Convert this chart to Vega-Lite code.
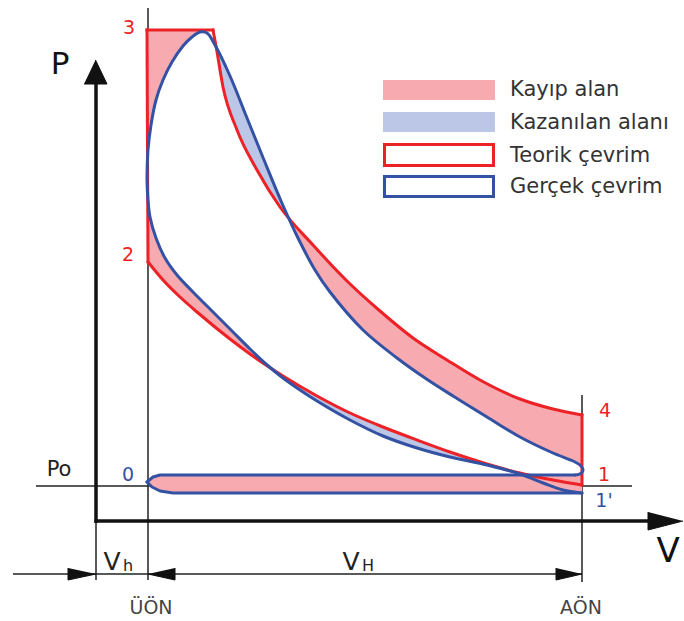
{
  "$schema": "https://vega.github.io/schema/vega-lite/v6.json",
  "width": 684,
  "height": 621,
  "autosize": {"type": "none"},
  "padding": 0,
  "background": "white",
  "config": {"view": {"stroke": null}},
  "datasets": {
    "thin": [
      {"x": 148, "y": 8, "x2": 148, "y2": 580},
      {"x": 582, "y": 395, "x2": 582, "y2": 582},
      {"x": 96, "y": 521, "x2": 96, "y2": 580},
      {"x": 36, "y": 486, "x2": 632, "y2": 486},
      {"x": 13, "y": 574, "x2": 582, "y2": 574}
    ],
    "thick": [
      {"x": 96, "y": 80, "x2": 96, "y2": 523},
      {"x": 94.5, "y": 521, "x2": 652, "y2": 521}
    ],
    "arrows": [
      {"g": "P", "i": 0, "x": 95.5, "y": 60}, {"g": "P", "i": 1, "x": 107, "y": 84}, {"g": "P", "i": 2, "x": 84, "y": 84},
      {"g": "V", "i": 0, "x": 683, "y": 521}, {"g": "V", "i": 1, "x": 648, "y": 530}, {"g": "V", "i": 2, "x": 648, "y": 512},
      {"g": "a1", "i": 0, "x": 96, "y": 574}, {"g": "a1", "i": 1, "x": 68, "y": 580}, {"g": "a1", "i": 2, "x": 68, "y": 568},
      {"g": "a2", "i": 0, "x": 148, "y": 574}, {"g": "a2", "i": 1, "x": 175, "y": 580}, {"g": "a2", "i": 2, "x": 175, "y": 568},
      {"g": "a3", "i": 0, "x": 582, "y": 574}, {"g": "a3", "i": 1, "x": 556, "y": 580}, {"g": "a3", "i": 2, "x": 556, "y": 568}
    ],
    "lost": [
      {"g": "A", "i": 0, "x": 147, "y": 30}, {"g": "A", "i": 1, "x": 205, "y": 30}, {"g": "A", "i": 2, "x": 200, "y": 32},
      {"g": "A", "i": 3, "x": 192, "y": 37}, {"g": "A", "i": 4, "x": 183, "y": 46}, {"g": "A", "i": 5, "x": 172, "y": 62},
      {"g": "A", "i": 6, "x": 163, "y": 80}, {"g": "A", "i": 7, "x": 156, "y": 100}, {"g": "A", "i": 8, "x": 151, "y": 125},
      {"g": "A", "i": 9, "x": 148, "y": 150}, {"g": "A", "i": 10, "x": 147, "y": 170},
      {"g": "B", "i": 0, "x": 147, "y": 185}, {"g": "B", "i": 1, "x": 148, "y": 200}, {"g": "B", "i": 2, "x": 150, "y": 217},
      {"g": "B", "i": 3, "x": 156, "y": 238}, {"g": "B", "i": 4, "x": 165, "y": 258}, {"g": "B", "i": 5, "x": 177, "y": 275},
      {"g": "B", "i": 6, "x": 192, "y": 291}, {"g": "B", "i": 7, "x": 213, "y": 312}, {"g": "B", "i": 8, "x": 232, "y": 331},
      {"g": "B", "i": 9, "x": 250, "y": 349}, {"g": "B", "i": 10, "x": 268, "y": 366},
      {"g": "B", "i": 11, "x": 250, "y": 354}, {"g": "B", "i": 12, "x": 230, "y": 339}, {"g": "B", "i": 13, "x": 197, "y": 312},
      {"g": "B", "i": 14, "x": 180, "y": 297}, {"g": "B", "i": 15, "x": 163, "y": 280}, {"g": "B", "i": 16, "x": 148, "y": 262},
      {"g": "D", "i": 0, "x": 288, "y": 216}, {"g": "D", "i": 1, "x": 313, "y": 245}, {"g": "D", "i": 2, "x": 347, "y": 281},
      {"g": "D", "i": 3, "x": 380, "y": 311}, {"g": "D", "i": 4, "x": 413, "y": 338}, {"g": "D", "i": 5, "x": 447, "y": 360},
      {"g": "D", "i": 6, "x": 480, "y": 380}, {"g": "D", "i": 7, "x": 520, "y": 399}, {"g": "D", "i": 8, "x": 553, "y": 409},
      {"g": "D", "i": 9, "x": 582, "y": 415}, {"g": "D", "i": 10, "x": 582, "y": 476}, {"g": "D", "i": 11, "x": 576, "y": 475},
      {"g": "D", "i": 12, "x": 583, "y": 470}, {"g": "D", "i": 13, "x": 580, "y": 465}, {"g": "D", "i": 14, "x": 573, "y": 461},
      {"g": "D", "i": 15, "x": 553, "y": 453}, {"g": "D", "i": 16, "x": 520, "y": 437}, {"g": "D", "i": 17, "x": 487, "y": 417},
      {"g": "D", "i": 18, "x": 453, "y": 396}, {"g": "D", "i": 19, "x": 425, "y": 378}, {"g": "D", "i": 20, "x": 397, "y": 358},
      {"g": "D", "i": 21, "x": 363, "y": 330}, {"g": "D", "i": 22, "x": 330, "y": 292}, {"g": "D", "i": 23, "x": 315, "y": 270},
      {"g": "D", "i": 24, "x": 298, "y": 238},
      {"g": "F", "i": 0, "x": 147, "y": 482}, {"g": "F", "i": 1, "x": 153, "y": 477}, {"g": "F", "i": 2, "x": 160, "y": 475},
      {"g": "F", "i": 3, "x": 582, "y": 475}, {"g": "F", "i": 4, "x": 582, "y": 493}, {"g": "F", "i": 5, "x": 173, "y": 493},
      {"g": "F", "i": 6, "x": 160, "y": 491}, {"g": "F", "i": 7, "x": 152, "y": 487}
    ],
    "gained": [
      {"g": "C", "i": 0, "x": 216, "y": 46}, {"g": "C", "i": 1, "x": 223, "y": 87}, {"g": "C", "i": 2, "x": 237, "y": 130},
      {"g": "C", "i": 3, "x": 257, "y": 170}, {"g": "C", "i": 4, "x": 280, "y": 207}, {"g": "C", "i": 5, "x": 288, "y": 216},
      {"g": "C", "i": 6, "x": 281, "y": 201}, {"g": "C", "i": 7, "x": 264, "y": 160}, {"g": "C", "i": 8, "x": 247, "y": 118},
      {"g": "C", "i": 9, "x": 230, "y": 76}, {"g": "C", "i": 10, "x": 215, "y": 45},
      {"g": "E", "i": 0, "x": 268, "y": 366}, {"g": "E", "i": 1, "x": 283, "y": 376}, {"g": "E", "i": 2, "x": 317, "y": 396},
      {"g": "E", "i": 3, "x": 350, "y": 413}, {"g": "E", "i": 4, "x": 383, "y": 427}, {"g": "E", "i": 5, "x": 417, "y": 440},
      {"g": "E", "i": 6, "x": 450, "y": 452}, {"g": "E", "i": 7, "x": 487, "y": 464}, {"g": "E", "i": 8, "x": 520, "y": 473},
      {"g": "E", "i": 9, "x": 530, "y": 475.5}, {"g": "E", "i": 10, "x": 520, "y": 474}, {"g": "E", "i": 11, "x": 487, "y": 465},
      {"g": "E", "i": 12, "x": 450, "y": 457}, {"g": "E", "i": 13, "x": 417, "y": 448}, {"g": "E", "i": 14, "x": 383, "y": 436},
      {"g": "E", "i": 15, "x": 350, "y": 420}, {"g": "E", "i": 16, "x": 317, "y": 401}, {"g": "E", "i": 17, "x": 300, "y": 390},
      {"g": "E", "i": 18, "x": 283, "y": 378}
    ],
    "teorikStraight": [
      {"g": "top", "i": 0, "x": 147, "y": 30}, {"g": "top", "i": 1, "x": 213, "y": 30},
      {"g": "v41", "i": 0, "x": 582, "y": 415}, {"g": "v41", "i": 1, "x": 582, "y": 485},
      {"g": "v23", "i": 0, "x": 148, "y": 262}, {"g": "v23", "i": 1, "x": 147, "y": 30}
    ],
    "teorikCurve": [
      {"g": "exp", "x": 213, "y": 30}, {"g": "exp", "x": 216, "y": 46}, {"g": "exp", "x": 223, "y": 87},
      {"g": "exp", "x": 237, "y": 130}, {"g": "exp", "x": 257, "y": 170}, {"g": "exp", "x": 280, "y": 207}, {"g": "exp", "x": 313, "y": 245},
      {"g": "exp", "x": 347, "y": 281}, {"g": "exp", "x": 380, "y": 311}, {"g": "exp", "x": 413, "y": 338}, {"g": "exp", "x": 447, "y": 360},
      {"g": "exp", "x": 480, "y": 380}, {"g": "exp", "x": 520, "y": 399}, {"g": "exp", "x": 553, "y": 409}, {"g": "exp", "x": 582, "y": 415},
      {"g": "comp", "x": 582, "y": 485}, {"g": "comp", "x": 553, "y": 480}, {"g": "comp", "x": 520, "y": 473}, {"g": "comp", "x": 487, "y": 464},
      {"g": "comp", "x": 450, "y": 452}, {"g": "comp", "x": 417, "y": 440}, {"g": "comp", "x": 383, "y": 427}, {"g": "comp", "x": 350, "y": 413},
      {"g": "comp", "x": 317, "y": 396}, {"g": "comp", "x": 283, "y": 376}, {"g": "comp", "x": 250, "y": 354}, {"g": "comp", "x": 230, "y": 339},
      {"g": "comp", "x": 197, "y": 312}, {"g": "comp", "x": 180, "y": 297}, {"g": "comp", "x": 163, "y": 280}, {"g": "comp", "x": 148, "y": 262}
    ],
    "gercekStraight": [
      {"g": "in", "i": 0, "x": 147, "y": 482}, {"g": "in", "i": 1, "x": 152, "y": 487}, {"g": "in", "i": 2, "x": 160, "y": 491},
      {"g": "in", "i": 3, "x": 173, "y": 493}, {"g": "in", "i": 4, "x": 582, "y": 493},
      {"g": "ex", "i": 0, "x": 575, "y": 475}, {"g": "ex", "i": 1, "x": 160, "y": 475}, {"g": "ex", "i": 2, "x": 153, "y": 477},
      {"g": "ex", "i": 3, "x": 147, "y": 482}
    ],
    "gercekCurve": [
      {"i": 0, "x": 582, "y": 493}, {"i": 1, "x": 563, "y": 490}, {"i": 2, "x": 543, "y": 483}, {"i": 3, "x": 520, "y": 474},
      {"i": 4, "x": 487, "y": 465}, {"i": 5, "x": 450, "y": 457}, {"i": 6, "x": 417, "y": 448}, {"i": 7, "x": 383, "y": 436},
      {"i": 8, "x": 350, "y": 420}, {"i": 9, "x": 317, "y": 401}, {"i": 10, "x": 300, "y": 390}, {"i": 11, "x": 283, "y": 378},
      {"i": 12, "x": 266, "y": 364}, {"i": 13, "x": 250, "y": 349}, {"i": 14, "x": 232, "y": 331}, {"i": 15, "x": 213, "y": 312},
      {"i": 16, "x": 192, "y": 291}, {"i": 17, "x": 177, "y": 275}, {"i": 18, "x": 165, "y": 258}, {"i": 19, "x": 156, "y": 238},
      {"i": 20, "x": 150, "y": 217}, {"i": 21, "x": 148, "y": 200}, {"i": 22, "x": 147, "y": 180}, {"i": 23, "x": 148, "y": 150},
      {"i": 24, "x": 151, "y": 125}, {"i": 25, "x": 156, "y": 100}, {"i": 26, "x": 163, "y": 80}, {"i": 27, "x": 172, "y": 62},
      {"i": 28, "x": 183, "y": 46}, {"i": 29, "x": 192, "y": 37}, {"i": 30, "x": 200, "y": 32}, {"i": 31, "x": 207, "y": 33},
      {"i": 32, "x": 215, "y": 45}, {"i": 33, "x": 230, "y": 76}, {"i": 34, "x": 247, "y": 118}, {"i": 35, "x": 264, "y": 160},
      {"i": 36, "x": 281, "y": 201}, {"i": 37, "x": 298, "y": 238}, {"i": 38, "x": 315, "y": 270}, {"i": 39, "x": 330, "y": 292},
      {"i": 40, "x": 363, "y": 330}, {"i": 41, "x": 397, "y": 358}, {"i": 42, "x": 425, "y": 378}, {"i": 43, "x": 453, "y": 396},
      {"i": 44, "x": 487, "y": 417}, {"i": 45, "x": 520, "y": 437}, {"i": 46, "x": 553, "y": 453}, {"i": 47, "x": 573, "y": 461},
      {"i": 48, "x": 580, "y": 465}, {"i": 49, "x": 583, "y": 470}, {"i": 50, "x": 580, "y": 474}, {"i": 51, "x": 575, "y": 475}
    ]
  },
  "encoding": {
    "x": {"field": "x", "type": "quantitative", "scale": {"domain": [0, 684], "nice": false, "zero": false}, "axis": null},
    "y": {"field": "y", "type": "quantitative", "scale": {"domain": [0, 621], "nice": false, "zero": false, "reverse": true}, "axis": null}
  },
  "layer": [
    {"data": {"name": "thin"}, "mark": {"type": "rule", "stroke": "#222222", "strokeWidth": 1.5},
     "encoding": {"x2": {"field": "x2"}, "y2": {"field": "y2"}}},
    {"data": {"name": "lost"}, "mark": {"type": "line", "fill": "#f7aab0", "stroke": "transparent", "strokeWidth": 0},
     "encoding": {"detail": {"field": "g"}, "order": {"field": "i", "type": "quantitative"}}},
    {"data": {"name": "gained"}, "mark": {"type": "line", "fill": "#bcc6e6", "stroke": "transparent", "strokeWidth": 0},
     "encoding": {"detail": {"field": "g"}, "order": {"field": "i", "type": "quantitative"}}},
    {"data": {"name": "teorikStraight"}, "mark": {"type": "line", "stroke": "#ec2227", "strokeWidth": 3, "strokeCap": "square"},
     "encoding": {"detail": {"field": "g"}, "order": {"field": "i", "type": "quantitative"}}},
    {"data": {"name": "teorikCurve"}, "mark": {"type": "line", "stroke": "#ec2227", "strokeWidth": 3, "interpolate": "monotone", "strokeCap": "round"},
     "encoding": {"detail": {"field": "g"}}},
    {"data": {"name": "gercekStraight"}, "mark": {"type": "line", "stroke": "#3452a4", "strokeWidth": 3, "strokeJoin": "round", "strokeCap": "round"},
     "encoding": {"detail": {"field": "g"}, "order": {"field": "i", "type": "quantitative"}}},
    {"data": {"name": "gercekCurve"}, "mark": {"type": "line", "stroke": "#3452a4", "strokeWidth": 3, "strokeJoin": "round", "strokeCap": "round", "interpolate": "catmull-rom"},
     "encoding": {"order": {"field": "i", "type": "quantitative"}}},
    {"data": {"name": "thick"}, "mark": {"type": "rule", "stroke": "#111111", "strokeWidth": 3.5},
     "encoding": {"x2": {"field": "x2"}, "y2": {"field": "y2"}}},
    {"data": {"name": "arrows"}, "mark": {"type": "line", "fill": "#111111", "stroke": "#111111", "strokeWidth": 1},
     "encoding": {"detail": {"field": "g"}, "order": {"field": "i", "type": "quantitative"}}},
    {"data": {"values": [{"x": 383, "y": 80, "x2": 495, "y2": 100}]}, "mark": {"type": "rect", "fill": "#f7aab0"},
     "encoding": {"x2": {"field": "x2"}, "y2": {"field": "y2"}}},
    {"data": {"values": [{"x": 383, "y": 112, "x2": 495, "y2": 132}]}, "mark": {"type": "rect", "fill": "#bcc6e6"},
     "encoding": {"x2": {"field": "x2"}, "y2": {"field": "y2"}}},
    {"data": {"values": [{"x": 384.5, "y": 144.5, "x2": 493.5, "y2": 165.5}]}, "mark": {"type": "rect", "fill": "white", "stroke": "#ec2227", "strokeWidth": 3},
     "encoding": {"x2": {"field": "x2"}, "y2": {"field": "y2"}}},
    {"data": {"values": [{"x": 384.5, "y": 176.5, "x2": 493.5, "y2": 196.5}]}, "mark": {"type": "rect", "fill": "white", "stroke": "#3452a4", "strokeWidth": 3},
     "encoding": {"x2": {"field": "x2"}, "y2": {"field": "y2"}}},
    {"data": {"values": [
      {"x": 510, "y": 90, "t": "Kayıp alan"},
      {"x": 510, "y": 123, "t": "Kazanılan alanı"},
      {"x": 510, "y": 156, "t": "Teorik çevrim"},
      {"x": 510, "y": 187, "t": "Gerçek çevrim"}
     ]},
     "mark": {"type": "text", "font": "DejaVu Sans", "fontSize": 21, "fill": "#333333", "align": "left", "baseline": "middle"},
     "encoding": {"text": {"field": "t"}}},
    {"data": {"values": [
      {"x": 129, "y": 28, "t": "3"},
      {"x": 128, "y": 255, "t": "2"},
      {"x": 605, "y": 411, "t": "4"},
      {"x": 604, "y": 475, "t": "1"}
     ]},
     "mark": {"type": "text", "font": "DejaVu Sans", "fontSize": 19, "fill": "#ec2227", "align": "center", "baseline": "middle"},
     "encoding": {"text": {"field": "t"}}},
    {"data": {"values": [
      {"x": 128, "y": 475, "t": "0"},
      {"x": 604, "y": 501, "t": "1'"}
     ]},
     "mark": {"type": "text", "font": "DejaVu Sans", "fontSize": 19, "fill": "#3452a4", "align": "center", "baseline": "middle"},
     "encoding": {"text": {"field": "t"}}},
    {"data": {"values": [
      {"x": 60, "y": 65, "t": "P"}
     ]},
     "mark": {"type": "text", "font": "DejaVu Sans", "fontSize": 31, "fill": "#111111", "align": "center", "baseline": "middle"},
     "encoding": {"text": {"field": "t"}}},
    {"data": {"values": [
      {"x": 668, "y": 552, "t": "V"}
     ]},
     "mark": {"type": "text", "font": "DejaVu Sans", "fontSize": 34, "fill": "#111111", "align": "center", "baseline": "middle"},
     "encoding": {"text": {"field": "t"}}},
    {"data": {"values": [
      {"x": 59, "y": 470, "t": "Po"}
     ]},
     "mark": {"type": "text", "font": "DejaVu Sans", "fontSize": 21, "fill": "#222222", "align": "center", "baseline": "middle"},
     "encoding": {"text": {"field": "t"}}},
    {"data": {"values": [
      {"x": 112, "y": 562, "t": "V"},
      {"x": 351, "y": 562, "t": "V"}
     ]},
     "mark": {"type": "text", "font": "DejaVu Sans", "fontSize": 25, "fill": "#222222", "align": "center", "baseline": "middle"},
     "encoding": {"text": {"field": "t"}}},
    {"data": {"values": [
      {"x": 128, "y": 566, "t": "h"},
      {"x": 368, "y": 566, "t": "H"}
     ]},
     "mark": {"type": "text", "font": "DejaVu Sans", "fontSize": 16, "fill": "#222222", "align": "center", "baseline": "middle"},
     "encoding": {"text": {"field": "t"}}},
    {"data": {"values": [
      {"x": 151, "y": 608, "t": "ÜÖN"},
      {"x": 581, "y": 608, "t": "AÖN"}
     ]},
     "mark": {"type": "text", "font": "DejaVu Sans", "fontSize": 19, "fill": "#444444", "align": "center", "baseline": "middle"},
     "encoding": {"text": {"field": "t"}}}
  ]
}
